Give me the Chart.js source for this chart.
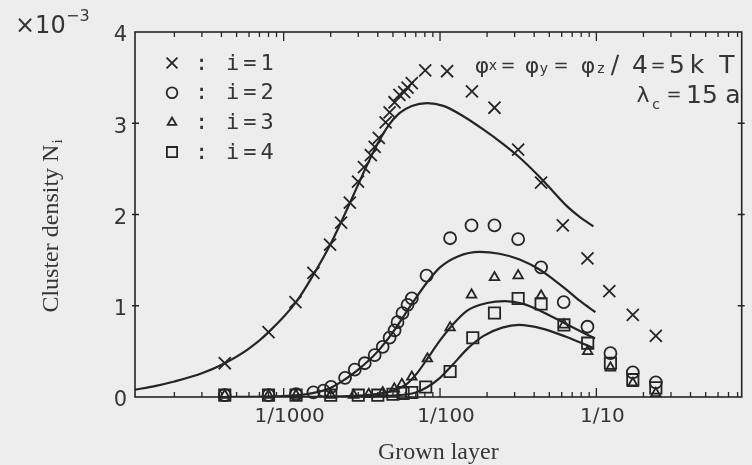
<!DOCTYPE html>
<html>
<head>
<meta charset="utf-8">
<title>Cluster density vs grown layer</title>
<script src="https://cdn.jsdelivr.net/npm/chart.js@4.4.1/dist/chart.umd.min.js"></script>
<style>
  html, body { margin: 0; padding: 0; background: #ededed; }
  #wrap { width: 752px; height: 465px; }
</style>
</head>
<body>
<div id="wrap"><canvas id="clusterChart" width="752" height="465"></canvas></div>
<script>
// x: grown layer (log), y: cluster density in units of 1e-3
const xTickValues = [0.001, 0.01, 0.1];
const xTickLabels = ['1∕1000', '1∕100', '1∕10'];
const yTickValues = [0, 1, 2, 3, 4];

// simulated points, i = 1 (x)
const i1X = [4.2e-4, 8.0e-4, 1.19e-3, 1.55e-3, 1.98e-3, 2.33e-3, 2.65e-3, 2.99e-3, 3.26e-3, 3.61e-3,
             3.82e-3, 4.06e-3, 4.49e-3, 4.76e-3, 5.12e-3, 5.5e-3, 5.9e-3, 6.2e-3, 6.6e-3, 8.04e-3,
             1.11e-2, 1.6e-2, 2.23e-2, 3.16e-2, 4.43e-2, 6.1e-2, 8.77e-2, 0.121, 0.171, 0.24];
const i1Y = [0.37, 0.71, 1.04, 1.36, 1.67, 1.91, 2.13, 2.36, 2.52, 2.65,
             2.74, 2.84, 3.01, 3.12, 3.23, 3.31, 3.34, 3.39, 3.44, 3.58,
             3.57, 3.35, 3.17, 2.71, 2.35, 1.88, 1.52, 1.16, 0.90, 0.67];

// i = 2 (circles)
const i2X = [4.2e-4, 8.0e-4, 1.2e-3, 1.55e-3, 1.8e-3, 2.01e-3, 2.47e-3, 2.85e-3, 3.3e-3, 3.82e-3,
             4.3e-3, 4.76e-3, 5.12e-3, 5.35e-3, 5.75e-3, 6.2e-3, 6.6e-3, 8.2e-3, 1.16e-2, 1.59e-2,
             2.23e-2, 3.16e-2, 4.43e-2, 6.18e-2, 8.77e-2, 0.123, 0.171, 0.24];
const i2Y = [0.02, 0.02, 0.03, 0.05, 0.07, 0.11, 0.21, 0.30, 0.37, 0.46,
             0.55, 0.65, 0.73, 0.82, 0.92, 1.01, 1.08, 1.33, 1.74, 1.88,
             1.88, 1.73, 1.42, 1.04, 0.77, 0.48, 0.27, 0.16];

// i = 3 (triangles)
const i3X = [4.2e-4, 8.0e-4, 1.2e-3, 2.0e-3, 2.8e-3, 3.5e-3, 4.3e-3, 5.1e-3, 5.7e-3, 6.6e-3,
             8.3e-3, 1.16e-2, 1.59e-2, 2.23e-2, 3.16e-2, 4.43e-2, 6.2e-2, 8.8e-2, 0.123, 0.171, 0.24];
const i3Y = [0.02, 0.02, 0.02, 0.02, 0.02, 0.03, 0.05, 0.09, 0.14, 0.22,
             0.42, 0.76, 1.12, 1.31, 1.33, 1.11, 0.79, 0.50, 0.32, 0.15, 0.04];

// i = 4 (squares)
const i4X = [4.2e-4, 8.0e-4, 1.2e-3, 2.0e-3, 3.0e-3, 4.0e-3, 5.0e-3, 5.8e-3, 6.6e-3, 8.1e-3,
             1.16e-2, 1.62e-2, 2.23e-2, 3.16e-2, 4.43e-2, 6.2e-2, 8.8e-2, 0.123, 0.171, 0.24];
const i4Y = [0.02, 0.02, 0.02, 0.02, 0.02, 0.02, 0.03, 0.04, 0.05, 0.11,
             0.28, 0.65, 0.92, 1.08, 1.02, 0.79, 0.59, 0.37, 0.19, 0.10];

// calculated curves
const fit1X = [1.12e-4, 1.5e-4, 2e-4, 3e-4, 4.2e-4, 6e-4, 8e-4, 1.2e-3, 1.6e-3, 2e-3,
               2.5e-3, 3e-3, 3.5e-3, 4e-3, 4.7e-3, 5.5e-3, 6.6e-3, 8.3e-3, 1.05e-2, 1.4e-2,
               1.9e-2, 2.5e-2, 3.2e-2, 4.4e-2, 5.3e-2, 6.4e-2, 7.85e-2, 9.57e-2];
const fit1Y = [0.08, 0.12, 0.17, 0.26, 0.37, 0.53, 0.71, 1.04, 1.38, 1.68,
               2.03, 2.33, 2.58, 2.78, 2.98, 3.11, 3.19, 3.22, 3.19, 3.08,
               2.93, 2.78, 2.63, 2.40, 2.25, 2.10, 1.97, 1.87];

const fit2X = [4e-4, 1e-3, 1.5e-3, 2e-3, 2.5e-3, 3e-3, 4e-3, 5e-3, 6.6e-3, 8.3e-3,
               1.0e-2, 1.3e-2, 1.79e-2, 2.4e-2, 3.2e-2, 4.3e-2, 5.3e-2, 6.4e-2, 7.9e-2, 9.86e-2];
const fit2Y = [0.0, 0.01, 0.04, 0.10, 0.20, 0.30, 0.50, 0.71, 1.02, 1.26,
               1.42, 1.54, 1.59, 1.57, 1.51, 1.40, 1.29, 1.18, 1.05, 0.93];

const fit3X = [1e-3, 2e-3, 3e-3, 4e-3, 5e-3, 6.2e-3, 7.2e-3, 8.3e-3, 1e-2, 1.2e-2,
               1.5e-2, 2e-2, 2.6e-2, 3.4e-2, 4.56e-2, 6.4e-2, 9.8e-2];
const fit3Y = [0.0, 0.005, 0.015, 0.035, 0.07, 0.15, 0.27, 0.42, 0.62, 0.79,
               0.95, 1.03, 1.05, 1.02, 0.93, 0.80, 0.64];

const fit4X = [2e-3, 4e-3, 5.5e-3, 7e-3, 8.3e-3, 1e-2, 1.2e-2, 1.5e-2, 1.9e-2, 2.5e-2,
               3.2e-2, 4.5e-2, 6.4e-2, 9.5e-2];
const fit4Y = [0.0, 0.01, 0.02, 0.05, 0.11, 0.21, 0.35, 0.53, 0.67, 0.76,
               0.79, 0.75, 0.66, 0.54];

const ink = '#252525';
const textInk = '#353535';

function pts(xs, ys) {
    return xs.map((x, k) => ({ x: x, y: ys[k] }));
}

function markerSet(label, xs, ys, style, radius) {
    return {
        label: label,
        data: pts(xs, ys),
        showLine: false,
        pointStyle: style,
        pointRadius: radius,
        pointHoverRadius: radius,
        borderColor: ink,
        backgroundColor: 'rgba(0,0,0,0)',
        borderWidth: 1.8,
        clip: false
    };
}

function curveSet(xs, ys) {
    return {
        label: '',
        data: pts(xs, ys),
        showLine: true,
        pointRadius: 0,
        borderColor: ink,
        borderWidth: 2.2,
        cubicInterpolationMode: 'monotone',
        fill: false
    };
}

// frame, inward log ticks, legend and parameter text
const figureDecor = {
    id: 'figureDecor',
    beforeDatasetsDraw(chart) {
        const ctx = chart.ctx;
        const a = chart.chartArea;
        const x = chart.scales.x;
        const y = chart.scales.y;
        ctx.save();
        ctx.strokeStyle = ink;
        ctx.lineWidth = 1.6;
        ctx.strokeRect(a.left, a.top, a.right - a.left, a.bottom - a.top);

        ctx.lineWidth = 1.3;
        ctx.beginPath();
        for (let d = -4; d <= 0; d++) {
            for (let m = 1; m <= 9; m++) {
                const v = m * Math.pow(10, d);
                if (v < x.min || v > x.max) continue;
                const px = x.getPixelForValue(v);
                const len = m === 1 ? 9 : 5;
                ctx.moveTo(px, a.bottom);
                ctx.lineTo(px, a.bottom - len);
                ctx.moveTo(px, a.top);
                ctx.lineTo(px, a.top + len);
            }
        }
        yTickValues.forEach(v => {
            if (v === 0 || v === 4) return;
            const py = y.getPixelForValue(v);
            ctx.moveTo(a.left - 3, py);
            ctx.lineTo(a.left + 4, py);
            ctx.moveTo(a.right - 4, py);
            ctx.lineTo(a.right + 3, py);
        });
        ctx.stroke();
        ctx.restore();
    },
    afterDraw(chart) {
        const ctx = chart.ctx;
        const a = chart.chartArea;
        ctx.save();
        ctx.fillStyle = textInk;

        // exponent of the y axis
        ctx.textBaseline = 'alphabetic';
        ctx.textAlign = 'left';
        ctx.font = '24px "DejaVu Sans"';
        ctx.fillText('×10', 15, 33);
        ctx.font = '16px "DejaVu Sans"';
        ctx.fillText('−3', 66, 21);

        // y axis title with subscript
        ctx.save();
        ctx.translate(52, (a.top + a.bottom) / 2 + 12);
        ctx.rotate(-Math.PI / 2);
        ctx.font = '24px "Liberation Serif"';
        const main = 'Cluster density N';
        const wMain = ctx.measureText(main).width;
        ctx.font = '15px "Liberation Serif"';
        const wSub = ctx.measureText('i').width;
        const x0 = -(wMain + wSub) / 2;
        ctx.font = '24px "Liberation Serif"';
        ctx.textBaseline = 'middle';
        ctx.fillText(main, x0, 0);
        ctx.font = '15px "Liberation Serif"';
        ctx.fillText('i', x0 + wMain + 1, 6);
        ctx.restore();

        // legend of the simulated sets
        ctx.textBaseline = 'middle';
        chart.data.datasets.forEach((ds, k) => {
            if (!ds.label) return;
            const cy = 63 + k * 29.7;
            ctx.strokeStyle = ink;
            ctx.fillStyle = 'rgba(0,0,0,0)';
            ctx.lineWidth = 1.8;
            Chart.helpers.drawPoint(ctx, {
                pointStyle: ds.pointStyle,
                radius: ds.pointRadius * 0.9,
                rotation: 0,
                borderWidth: 1.8
            }, 172, cy);
            ctx.fillStyle = textInk;
            ctx.font = '22px "DejaVu Sans Mono"';
            ctx.fillText(':', 195, cy + 1);
            ctx.letterSpacing = '4px';
            ctx.fillText(ds.label, 226, cy + 1);
            ctx.letterSpacing = '0px';
        });

        // model parameters, glyph by glyph (centre x, baseline y)
        ctx.textBaseline = 'alphabetic';
        ctx.textAlign = 'center';
        const big = '25px "DejaVu Sans"';
        const phi = '22px "DejaVu Sans"';
        const eq = '18px "DejaVu Sans"';
        const small = '14px "DejaVu Sans"';
        const runs = [
            ['φ', 482, 73, phi], ['x', 493, 70, small], ['=', 508, 71, eq],
            ['φ', 532, 73, phi], ['y', 544, 73, small], ['=', 561, 71, eq],
            ['φ', 588, 73, phi], ['z', 601, 73, small], ['∕', 615, 73, big],
            ['4', 640, 73, big], ['=', 658, 71, eq], ['5', 677, 73, big],
            ['k', 697, 73, big], ['T', 727, 73, big],
            ['λ', 643, 102, phi], ['c', 656, 109, small], ['=', 674, 100, eq],
            ['1', 694, 103, big], ['5', 710, 103, big], ['a', 733, 103, big]
        ];
        runs.forEach(r => {
            ctx.font = r[3];
            ctx.fillText(r[0], r[1], r[2]);
        });
        ctx.restore();
    }
};

window.onload = function() {
    const ctx = document.getElementById('clusterChart').getContext('2d');
    new Chart(ctx, {
        type: 'scatter',
        data: {
            datasets: [
                markerSet('i=1', i1X, i1Y, 'crossRot', 8.5),
                markerSet('i=2', i2X, i2Y, 'circle', 6),
                markerSet('i=3', i3X, i3Y, 'triangle', 5.5),
                markerSet('i=4', i4X, i4Y, 'rect', 8),
                curveSet(fit1X, fit1Y),
                curveSet(fit2X, fit2Y),
                curveSet(fit3X, fit3Y),
                curveSet(fit4X, fit4Y)
            ]
        },
        options: {
            responsive: false,
            animation: false,
            events: [],
            layout: { padding: { top: 32, right: 4, bottom: 0, left: 0 } },
            plugins: {
                legend: { display: false },
                tooltip: { enabled: false }
            },
            scales: {
                x: {
                    type: 'logarithmic',
                    position: 'bottom',
                    min: 1.12e-4,
                    max: 0.85,
                    grid: { display: false, drawTicks: false },
                    border: { display: false },
                    afterBuildTicks: s => { s.ticks = xTickValues.map(v => ({ value: v })); },
                    afterFit: s => { s.height = 68; },
                    ticks: {
                        autoSkip: false,
                        maxRotation: 0,
                        padding: 8,
                        labelOffset: 6,
                        color: textInk,
                        font: { family: 'DejaVu Sans', size: 20 },
                        callback: (v, i) => xTickLabels[i]
                    },
                    title: {
                        display: true,
                        text: 'Grown layer',
                        color: textInk,
                        font: { family: 'Liberation Serif', size: 24, lineHeight: 1 },
                        padding: { top: 0, bottom: 0 }
                    }
                },
                y: {
                    min: 0,
                    max: 4,
                    grid: { display: false, drawTicks: false },
                    border: { display: false },
                    afterBuildTicks: s => { s.ticks = yTickValues.map(v => ({ value: v })); },
                    afterFit: s => { s.width = 135; },
                    ticks: {
                        padding: 8,
                        labelOffset: 4,
                        color: textInk,
                        font: { family: 'DejaVu Sans', size: 21 },
                        callback: v => String(v)
                    }
                }
            }
        },
        plugins: [figureDecor]
    });
};
</script>
</body>
</html>
